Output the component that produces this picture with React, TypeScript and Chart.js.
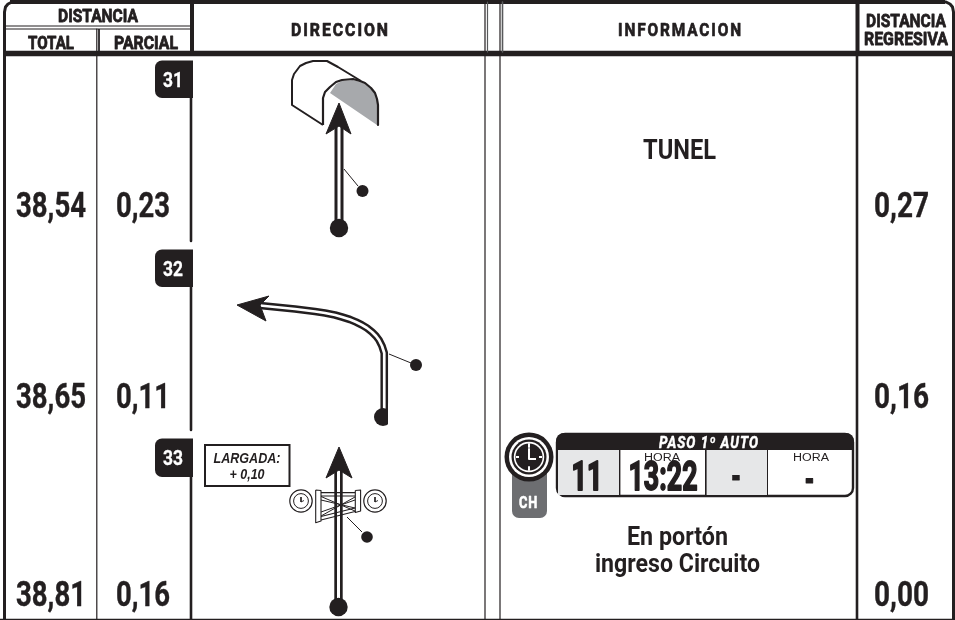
import React, { useEffect, useRef } from "react";
import { Chart, registerables } from "chart.js";

Chart.register(...registerables);

// Values read from the road-book sheet
const steps = [31, 32, 33];
const totalKm = [38.54, 38.65, 38.81];
const partialKm = [0.23, 0.11, 0.16];
const remainingKm = [0.27, 0.16, 0.0];
const notes = ["TUNEL"];
const closingNote = ["En portón", "ingreso Circuito"];
const startNote = ["LARGADA:", "+ 0,10"];
const chHeader = "PASO 1º AUTO";
const chValues = ["11", "13:22", "-", "-"];
const columnHeads = ["DISTANCIA", "TOTAL", "PARCIAL", "DIRECCION", "INFORMACION"];
const regressiveHead = ["DISTANCIA", "REGRESIVA"];

const INK = "#231f20";
const GREY = "#a7a9ac";
const LIGHT = "#e6e7e8";
const TAG = "#6d6e71";
const WHITE = "#ffffff";
const FACE = "Roboto, 'Liberation Sans', sans-serif";

type Pt = [number, number];

// Diagram geometry
const arrowOneShaft: Pt[] = [[339, 228], [339, 125]];
const arrowOneHead: Pt[] = [[339, 103], [351, 134], [339, 126], [326, 134], [339, 103]];
const arrowOneLeader: Pt[] = [[344, 169], [358, 186]];
const tunnelBack: Pt[] = [[323, 125], [292, 105], [292, 80], [294, 74], [300, 66], [306, 63], [313, 61], [327, 61], [338, 67], [361, 81]];
const tunnelFront: Pt[] = [[323, 125], [323, 98], [325, 92], [330, 87], [336, 82], [342, 80], [353, 79], [360, 81], [365, 83], [371, 88], [375, 93], [377, 99], [378, 105], [378, 125]];
const tunnelShade: Pt[] = [[330, 93], [336, 84], [342, 81], [353, 80], [360, 82], [365, 84], [371, 89], [375, 94], [377, 100], [377, 105], [377, 125], [330, 93]];

const arrowTwoShaft: Pt[] = [[384.5, 412], [384.5, 358], [384, 353], [382, 346], [379, 340], [376, 336], [372, 332], [367, 328], [362, 325], [356, 322], [350, 319.5], [342, 317], [335, 315], [325, 313], [315, 311.5], [295, 309], [280, 307.5], [260, 305.5]];
const arrowTwoHead: Pt[] = [[237, 305], [269, 296], [260, 305], [266, 321], [237, 305]];
const arrowTwoLeader: Pt[] = [[389, 354], [411, 363]];
const arrowTwoMask: Pt[] = [[391, 405], [391, 428]];

const arrowThreeShaft: Pt[] = [[338.5, 607], [338.5, 470]];
const arrowThreeHead: Pt[] = [[339, 447], [352, 478], [339, 470], [326, 478], [339, 447]];
const arrowThreeLeader: Pt[] = [[347, 517], [362, 532]];
const gateTopA: Pt[] = [[321, 492.7], [355, 492.7]];
const gateTopB: Pt[] = [[321, 496], [355, 496]];
const gateLowA: Pt[] = [[321, 516.5], [355, 508]];
const gateLowB: Pt[] = [[321, 520], [355, 511.5]];
const gateCrossA: Pt[] = [[321, 496.5], [355, 511]];
const gateCrossB: Pt[] = [[321, 500], [355, 508]];
const gateCrossC: Pt[] = [[321, 516], [355, 497]];
const gateCrossD: Pt[] = [[321, 512], [355, 500]];
const gatePostLeft: Pt[] = [[315.7, 490], [321, 490.5], [321, 521], [315.7, 522.7], [315.7, 490]];
const gatePostRight: Pt[] = [[355.3, 490.5], [360.6, 490], [360.6, 511], [355.3, 512.5], [355.3, 490.5]];
const watchHandsLeft: Pt[] = [[301, 497], [301, 502], [304, 500.5]];
const watchHandsRight: Pt[] = [[375, 497], [375, 502], [378, 500.5]];

const clockHands: Pt[] = [[529, 449], [529, 459], [536, 459]];
const clockTicksA: Pt[] = [[529, 444], [529, 447]];
const clockTicksB: Pt[] = [[529, 467], [529, 470]];
const clockTicksC: Pt[] = [[516, 457], [519, 457]];
const clockTicksD: Pt[] = [[539, 457], [542, 457]];

type Ds = { pts: Pt[]; w: number; c: string; fill?: string };

const lines: Ds[] = [
  // sheet frame
  { pts: [[4.5, 620], [4.5, 12], [5.5, 7], [8, 4], [12, 2], [16, 2]], w: 3, c: INK },
  { pts: [[10, 2], [945, 2]], w: 4, c: INK },
  { pts: [[953.5, 620], [953.5, 12], [952.5, 7], [950, 4], [946, 2], [942, 2]], w: 3, c: INK },
  { pts: [[0, 619.4], [955, 619.4]], w: 1.4, c: INK },
  { pts: [[4, 53.5], [955, 53.5]], w: 5.5, c: INK },
  { pts: [[6, 26], [190, 26]], w: 1.2, c: INK },
  { pts: [[6, 29], [190, 29]], w: 1.2, c: INK },
  { pts: [[96.8, 29], [96.8, 620]], w: 1.2, c: INK },
  { pts: [[99, 29], [99, 52]], w: 1, c: INK },
  { pts: [[192, 2], [192, 53]], w: 4, c: INK },
  { pts: [[191, 98], [191, 241]], w: 2.6, c: INK },
  { pts: [[191, 287], [191, 430]], w: 2.6, c: INK },
  { pts: [[191, 477], [191, 620]], w: 2.6, c: INK },
  { pts: [[485, 2], [485, 620]], w: 1.2, c: INK },
  { pts: [[487.5, 2], [487.5, 52]], w: 1.2, c: "#58595b" },
  { pts: [[500, 2], [500, 620]], w: 1.2, c: INK },
  { pts: [[502.5, 2], [502.5, 52]], w: 1.6, c: "#58595b" },
  { pts: [[857.5, 2], [857.5, 52]], w: 4, c: INK },
  { pts: [[857, 52], [857, 620]], w: 2.6, c: INK },
  // tunnel
  { pts: tunnelShade, w: 0, c: GREY, fill: GREY },
  { pts: tunnelBack, w: 2, c: INK },
  { pts: tunnelFront, w: 2.2, c: INK },
  // first arrow
  { pts: arrowOneShaft, w: 9, c: INK },
  { pts: arrowOneShaft, w: 3, c: WHITE },
  { pts: arrowOneHead, w: 1, c: INK, fill: INK },
  { pts: arrowOneLeader, w: 1, c: INK },
  // second arrow
  { pts: arrowTwoShaft, w: 7.6, c: INK },
  { pts: arrowTwoShaft, w: 2.7, c: WHITE },
  { pts: arrowTwoHead, w: 1, c: INK, fill: INK },
  { pts: arrowTwoLeader, w: 1, c: INK },
  // third arrow
  { pts: arrowThreeShaft, w: 8.4, c: INK },
  { pts: arrowThreeShaft, w: 3, c: WHITE },
  { pts: arrowThreeHead, w: 1, c: INK, fill: INK },
  { pts: arrowThreeLeader, w: 1, c: INK },
  { pts: gateTopA, w: 1.2, c: INK },
  { pts: gateTopB, w: 1.2, c: INK },
  { pts: gateLowA, w: 1.2, c: INK },
  { pts: gateLowB, w: 1.2, c: INK },
  { pts: gateCrossA, w: 1, c: INK },
  { pts: gateCrossB, w: 1, c: INK },
  { pts: gateCrossC, w: 1, c: INK },
  { pts: gateCrossD, w: 1, c: INK },
  { pts: gatePostLeft, w: 1.1, c: INK, fill: WHITE },
  { pts: gatePostRight, w: 1.1, c: INK, fill: WHITE },
];

const mask: Ds = { pts: arrowTwoMask, w: 6, c: WHITE };

type Dot = { p: Pt; r: number; c: string; bw?: number; bc?: string };
const dots: Dot[] = [
  { p: [339, 228], r: 9.2, c: INK },
  { p: [362.5, 191], r: 6, c: INK },
  { p: [383, 417], r: 9, c: INK },
  { p: [416, 365], r: 6, c: INK },
  { p: [338.5, 607], r: 9.2, c: INK },
  { p: [367, 537], r: 5.8, c: INK },
  { p: [301, 501], r: 11.2, c: WHITE, bw: 1.2, bc: INK },
  { p: [301, 501], r: 7.4, c: WHITE, bw: 1, bc: INK },
  { p: [375, 501], r: 11.2, c: WHITE, bw: 1.2, bc: INK },
  { p: [375, 501], r: 7.4, c: WHITE, bw: 1, bc: INK },
  { p: [529, 457], r: 24.5, c: INK },
  { p: [529, 457], r: 20, c: WHITE },
  { p: [529, 457], r: 17.5, c: INK },
  { p: [529, 457], r: 15.2, c: WHITE },
  { p: [529, 457], r: 13.6, c: INK },
];

const overDots: Ds[] = [
  { pts: watchHandsLeft, w: 0.9, c: INK },
  { pts: watchHandsRight, w: 0.9, c: INK },
  { pts: clockHands, w: 2, c: WHITE },
  { pts: clockTicksA, w: 2, c: WHITE },
  { pts: clockTicksB, w: 2, c: WHITE },
  { pts: clockTicksC, w: 2, c: WHITE },
  { pts: clockTicksD, w: 2, c: WHITE },
];

type Txt = { s: string; x: number; y: number; size: number; w?: number; color?: string; weight?: string; style?: string; stroke?: number; spacing?: number; family?: string };

const km = (v: number) => v.toFixed(2).replace(".", ",");

const rowBase = [217, 408, 605.5];
const badgeBase = [87, 276, 465];

const texts: Txt[] = [
  { s: columnHeads[0], x: 98, y: 22, size: 18, w: 80, stroke: 0.8 },
  { s: columnHeads[1], x: 51, y: 49, size: 18, w: 46, stroke: 0.8 },
  { s: columnHeads[2], x: 146, y: 49, size: 18, w: 64, stroke: 0.8 },
  { s: columnHeads[3], x: 340.5, y: 36, size: 18, w: 99, stroke: 0.7, spacing: 2.2 },
  { s: columnHeads[4], x: 680.5, y: 36, size: 18, w: 125, stroke: 0.7, spacing: 2.2 },
  { s: regressiveHead[0], x: 906, y: 27, size: 19, w: 80, stroke: 0.8 },
  { s: regressiveHead[1], x: 906, y: 45, size: 19, w: 84, stroke: 0.8 },
  ...rowBase.flatMap((y, i) => [
    { s: km(totalKm[i]), x: 51, y, size: 35, w: 70, stroke: 0.4 },
    { s: km(partialKm[i]), x: 143, y, size: 35, w: 54, stroke: 0.4 },
    { s: km(remainingKm[i]), x: 901.5, y, size: 35, w: 55, stroke: 0.4 },
  ]),
  ...badgeBase.map((y, i) => ({ s: String(steps[i]), x: 173, y, size: 21, w: 20, color: WHITE, stroke: 0.3 })),
  { s: notes[0], x: 679.5, y: 159, size: 28, w: 73 },
  { s: closingNote[0], x: 677.5, y: 545, size: 26, w: 101 },
  { s: closingNote[1], x: 677.5, y: 572, size: 26, w: 165 },
  { s: startNote[0], x: 247, y: 463, size: 15, w: 67, style: "italic", family: "Liberation Sans" },
  { s: startNote[1], x: 247, y: 479, size: 15, w: 35, style: "italic", family: "Liberation Sans" },
  { s: chHeader, x: 709, y: 448, size: 16, w: 100, style: "italic", color: WHITE, stroke: 0.5, spacing: 1.2 },
  { s: chValues[0], x: 587, y: 490, size: 40, w: 31, stroke: 2.2 },
  { s: chValues[1], x: 663, y: 490, size: 40, w: 69, stroke: 1.8 },
  { s: chValues[2], x: 736, y: 490, size: 40, w: 10, stroke: 0.8 },
  { s: chValues[3], x: 809.5, y: 493, size: 40, w: 10, stroke: 0.8 },
  { s: "HORA", x: 662, y: 461, size: 10, w: 36, weight: "normal", family: "Liberation Sans" },
  { s: "HORA", x: 811, y: 461, size: 10, w: 36, weight: "normal", family: "Liberation Sans" },
  { s: "CH", x: 528.5, y: 508, size: 17, w: 19, color: WHITE, stroke: 0.6, spacing: 1 },
];

const sheetPlugin = {
  id: "sheet",
  beforeDatasetsDraw(chart: any) {
    const { ctx, scales } = chart;
    const X = (v: number) => scales.x.getPixelForValue(v);
    const Y = (v: number) => scales.y.getPixelForValue(v);
    const box = (x0: number, y0: number, x1: number, y1: number, r: any, fill: string, stroke?: string, lw = 0) => {
      ctx.beginPath();
      ctx.roundRect(X(x0), Y(y0), X(x1) - X(x0), Y(y1) - Y(y0), r);
      ctx.fillStyle = fill;
      ctx.fill();
      if (stroke) {
        ctx.lineWidth = lw;
        ctx.strokeStyle = stroke;
        ctx.stroke();
      }
    };
    ctx.save();
    // step badges
    box(155, 60.5, 193, 98, [7, 0, 0, 7], INK);
    box(155, 249.5, 193, 287, [7, 0, 0, 7], INK);
    box(155, 438.5, 193, 477, [7, 0, 0, 7], INK);
    // start note
    box(205, 445, 289.5, 486, 0, WHITE, INK, 2);
    // CH tag and panel
    box(512, 470, 547, 518, [0, 0, 7, 7], TAG);
    box(557, 434, 853, 496, 8, WHITE, INK, 2.4);
    ctx.beginPath();
    ctx.rect(X(558), Y(450), X(619) - X(558), Y(495) - Y(450));
    ctx.rect(X(706), Y(450), X(767) - X(706), Y(495) - Y(450));
    ctx.fillStyle = LIGHT;
    ctx.fill();
    box(556, 433, 854, 450, [8, 8, 0, 0], INK);
    ctx.fillStyle = INK;
    ctx.fillRect(X(619), Y(450), 1.4, Y(496) - Y(450));
    ctx.fillRect(X(705), Y(450), 1.6, Y(496) - Y(450));
    ctx.fillRect(X(767), Y(450), 1, Y(496) - Y(450));
    ctx.restore();
  },
  afterDatasetsDraw(chart: any) {
    const { ctx, scales } = chart;
    ctx.save();
    ctx.textAlign = "left";
    ctx.textBaseline = "alphabetic";
    for (const t of texts) {
      ctx.font = `${t.style || "normal"} ${t.weight || "bold"} ${t.size}px ${t.family ? `"${t.family}"` : FACE}`;
      (ctx as any).letterSpacing = `${t.spacing || 0}px`;
      const natural = ctx.measureText(t.s).width;
      const sx = t.w ? t.w / natural : 1;
      ctx.save();
      ctx.translate(scales.x.getPixelForValue(t.x), scales.y.getPixelForValue(t.y));
      ctx.scale(sx, 1);
      ctx.fillStyle = t.color || INK;
      ctx.fillText(t.s, -natural / 2, 0);
      if (t.stroke) {
        ctx.strokeStyle = t.color || INK;
        ctx.lineWidth = t.stroke;
        ctx.lineJoin = "round";
        ctx.strokeText(t.s, -natural / 2, 0);
      }
      ctx.restore();
    }
    (ctx as any).letterSpacing = "0px";
    ctx.restore();
  },
};

const lineSet = (d: Ds) => ({
  data: d.pts,
  showLine: true,
  borderColor: d.c,
  borderWidth: d.w,
  backgroundColor: d.fill || "transparent",
  fill: d.fill ? "shape" : false,
  pointRadius: 0,
  borderCapStyle: "butt",
  borderJoinStyle: "round",
  clip: false,
});

const dotSet = (d: Dot) => ({
  data: [d.p],
  showLine: false,
  pointRadius: d.r,
  pointBackgroundColor: d.c,
  pointBorderWidth: d.bw || 0,
  pointBorderColor: d.bc || d.c,
  clip: false,
});

export default function App() {
  const ref = useRef<HTMLCanvasElement>(null);
  useEffect(() => {
    if (!ref.current) return;
    const layered: any[] = [...lines.map(lineSet), ...dots.slice(0, 3).map(dotSet), lineSet(mask), ...dots.slice(3).map(dotSet), ...overDots.map(lineSet)];
    const datasets = layered.map((d, i) => ({ ...d, order: layered.length - i }));
    const chart = new Chart(ref.current, {
      type: "scatter",
      data: { datasets },
      options: {
        animation: false,
        responsive: false,
        events: [],
        layout: { padding: 0, autoPadding: false },
        plugins: { legend: { display: false }, tooltip: { enabled: false }, title: { display: false } },
        scales: {
          x: { type: "linear", min: 0, max: 955, display: false },
          y: { type: "linear", min: 0, max: 620, reverse: true, display: false },
        },
      },
      plugins: [sheetPlugin],
    } as any);
    return () => chart.destroy();
  }, []);
  return (
    <div style={{ position: "absolute", left: 0, top: 0, width: 955, height: 620, background: "#fff" }}>
      <canvas ref={ref} width={955} height={620} style={{ display: "block" }} />
    </div>
  );
}
